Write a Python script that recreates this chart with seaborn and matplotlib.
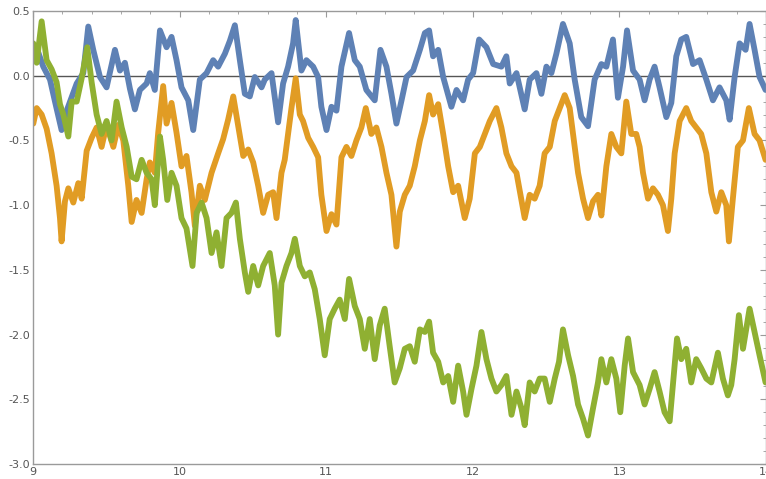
import numpy as np
import pandas as pd
import matplotlib
matplotlib.use("Agg")
import matplotlib.pyplot as plt
from matplotlib.ticker import MultipleLocator, FormatStrFormatter
import seaborn as sns

# values (time, value)
blue_t = [9.002, 9.030, 9.070, 9.116, 9.150, 9.195, 9.230, 9.298, 9.343, 9.377,
          9.411, 9.457, 9.502, 9.559, 9.593, 9.627, 9.661, 9.695, 9.729, 9.775,
          9.797, 9.831, 9.866, 9.911, 9.945, 9.979, 10.013, 10.059, 10.093, 10.138,
          10.184, 10.229, 10.263, 10.309, 10.343, 10.377, 10.411, 10.445, 10.479, 10.513,
          10.559, 10.581, 10.627, 10.672, 10.706, 10.740, 10.774, 10.792, 10.831, 10.865,
          10.911, 10.945, 10.967, 11.002, 11.036, 11.070, 11.104, 11.156, 11.195, 11.229,
          11.274, 11.331, 11.370, 11.411, 11.445, 11.479, 11.514, 11.548, 11.593, 11.639,
          11.673, 11.702, 11.729, 11.764, 11.798, 11.854, 11.889, 11.934, 11.968, 12.002,
          12.043, 12.093, 12.139, 12.195, 12.229, 12.252, 12.298, 12.354, 12.388, 12.434,
          12.468, 12.502, 12.536, 12.570, 12.615, 12.661, 12.695, 12.740, 12.786, 12.831,
          12.877, 12.911, 12.956, 12.990, 13.025, 13.052, 13.093, 13.138, 13.172, 13.206,
          13.240, 13.274, 13.320, 13.354, 13.388, 13.422, 13.456, 13.502, 13.547, 13.593,
          13.638, 13.683, 13.729, 13.752, 13.786, 13.820, 13.861, 13.888, 13.922, 13.956,
          13.997]
blue_v = [0.12, 0.20, 0.07, -0.03, -0.20, -0.42, -0.27, -0.06, 0.02, 0.38,
          0.20, -0.01, -0.09, 0.20, 0.04, 0.10, -0.10, -0.26, -0.11, -0.06,
          0.02, -0.11, 0.35, 0.22, 0.30, 0.12, -0.09, -0.19, -0.42, -0.03,
          0.02, 0.12, 0.07, 0.17, 0.27, 0.39, 0.12, -0.14, -0.16, -0.01,
          -0.09, -0.03, 0.02, -0.36, -0.06, 0.07, 0.25, 0.43, 0.04, 0.12,
          0.07, -0.01, -0.24, -0.42, -0.24, -0.27, 0.07, 0.33, 0.12, 0.07,
          -0.11, -0.19, 0.20, 0.07, -0.14, -0.37, -0.19, -0.01, 0.04, 0.20,
          0.33, 0.35, 0.15, 0.20, -0.01, -0.24, -0.11, -0.19, -0.03, 0.02,
          0.28, 0.22, 0.09, 0.07, 0.15, -0.06, 0.02, -0.26, -0.03, 0.02,
          -0.14, 0.07, 0.02, 0.17, 0.40, 0.25, -0.03, -0.32, -0.39, -0.03,
          0.09, 0.07, 0.28, -0.17, 0.07, 0.35, 0.04, -0.03, -0.19, -0.03,
          0.07, -0.09, -0.32, -0.21, 0.15, 0.28, 0.30, 0.09, 0.12, -0.03,
          -0.19, -0.09, -0.19, -0.34, -0.01, 0.25, 0.20, 0.40, 0.20, -0.01,
          -0.11]

orange_t = [9.002, 9.025, 9.059, 9.093, 9.127, 9.161, 9.184, 9.195, 9.218, 9.241,
            9.275, 9.309, 9.332, 9.366, 9.400, 9.434, 9.468, 9.502, 9.548, 9.582,
            9.616, 9.650, 9.673, 9.706, 9.741, 9.775, 9.797, 9.831, 9.854, 9.888,
            9.911, 9.945, 9.979, 10.013, 10.047, 10.081, 10.104, 10.138, 10.172, 10.218,
            10.263, 10.297, 10.331, 10.366, 10.400, 10.434, 10.468, 10.502, 10.536, 10.570,
            10.604, 10.638, 10.661, 10.695, 10.717, 10.740, 10.763, 10.792, 10.820, 10.842,
            10.877, 10.911, 10.945, 10.967, 11.002, 11.036, 11.070, 11.104, 11.138, 11.172,
            11.206, 11.240, 11.270, 11.308, 11.342, 11.377, 11.411, 11.445, 11.479, 11.502,
            11.536, 11.570, 11.604, 11.639, 11.673, 11.702, 11.729, 11.764, 11.798, 11.832,
            11.866, 11.900, 11.945, 11.979, 12.014, 12.048, 12.082, 12.116, 12.161, 12.195,
            12.229, 12.264, 12.298, 12.354, 12.388, 12.422, 12.456, 12.490, 12.525, 12.559,
            12.593, 12.627, 12.661, 12.684, 12.718, 12.752, 12.786, 12.820, 12.854, 12.877,
            12.911, 12.945, 12.979, 13.013, 13.047, 13.081, 13.115, 13.138, 13.161, 13.195,
            13.229, 13.263, 13.297, 13.331, 13.354, 13.377, 13.411, 13.456, 13.490, 13.524,
            13.558, 13.593, 13.627, 13.661, 13.695, 13.729, 13.747, 13.774, 13.808, 13.843,
            13.883, 13.922, 13.956, 13.997]
orange_v = [-0.37, -0.25, -0.30, -0.41, -0.60, -0.85, -1.10, -1.28, -0.97, -0.87,
            -0.98, -0.83, -0.95, -0.58, -0.48, -0.40, -0.55, -0.38, -0.55, -0.38,
            -0.50, -0.85, -1.13, -0.96, -1.06, -0.80, -0.67, -0.75, -0.44, -0.08,
            -0.37, -0.21, -0.44, -0.70, -0.62, -0.90, -1.16, -0.85, -0.96, -0.75,
            -0.60, -0.49, -0.34, -0.16, -0.39, -0.62, -0.57, -0.67, -0.85, -1.06,
            -0.92, -0.90, -1.10, -0.75, -0.65, -0.45, -0.25, -0.02, -0.30, -0.35,
            -0.48, -0.55, -0.63, -0.92, -1.20, -1.07, -1.15, -0.63, -0.55, -0.62,
            -0.50, -0.40, -0.25, -0.45, -0.40, -0.55, -0.75, -0.92, -1.32, -1.05,
            -0.92, -0.85, -0.70, -0.50, -0.35, -0.15, -0.30, -0.22, -0.45, -0.70,
            -0.90, -0.85, -1.10, -0.95, -0.60, -0.55, -0.45, -0.35, -0.25, -0.40,
            -0.60, -0.70, -0.75, -1.10, -0.92, -0.95, -0.85, -0.60, -0.55, -0.35,
            -0.25, -0.15, -0.25, -0.45, -0.75, -0.95, -1.10, -0.97, -0.92, -1.08,
            -0.70, -0.45, -0.55, -0.60, -0.20, -0.45, -0.45, -0.55, -0.75, -0.95,
            -0.87, -0.92, -1.00, -1.20, -0.95, -0.60, -0.35, -0.25, -0.35, -0.40,
            -0.45, -0.60, -0.90, -1.05, -0.90, -1.00, -1.28, -0.95, -0.55, -0.50,
            -0.25, -0.45, -0.50, -0.65]

green_t = [9.002, 9.025, 9.059, 9.093, 9.127, 9.161, 9.184, 9.207, 9.241, 9.264,
           9.298, 9.332, 9.370, 9.400, 9.434, 9.468, 9.502, 9.536, 9.570, 9.605,
           9.639, 9.673, 9.706, 9.741, 9.775, 9.809, 9.831, 9.866, 9.888, 9.916,
           9.945, 9.979, 10.013, 10.047, 10.088, 10.116, 10.150, 10.184, 10.218, 10.252,
           10.286, 10.320, 10.354, 10.384, 10.411, 10.445, 10.468, 10.502, 10.536, 10.570,
           10.615, 10.649, 10.672, 10.695, 10.729, 10.763, 10.786, 10.820, 10.854, 10.888,
           10.922, 10.956, 10.990, 11.024, 11.058, 11.092, 11.127, 11.156, 11.195, 11.229,
           11.263, 11.297, 11.331, 11.365, 11.399, 11.433, 11.467, 11.502, 11.536, 11.570,
           11.604, 11.639, 11.673, 11.702, 11.729, 11.764, 11.798, 11.832, 11.866, 11.900,
           11.934, 11.957, 11.991, 12.025, 12.059, 12.093, 12.127, 12.161, 12.195, 12.229,
           12.264, 12.298, 12.332, 12.354, 12.388, 12.422, 12.456, 12.490, 12.525, 12.559,
           12.588, 12.615, 12.650, 12.684, 12.718, 12.752, 12.786, 12.820, 12.854, 12.877,
           12.911, 12.945, 12.979, 13.006, 13.036, 13.059, 13.093, 13.138, 13.172, 13.206,
           13.240, 13.274, 13.308, 13.343, 13.365, 13.393, 13.422, 13.456, 13.490, 13.524,
           13.558, 13.593, 13.627, 13.672, 13.706, 13.740, 13.763, 13.786, 13.815, 13.843,
           13.888, 13.922, 13.956, 13.997]
green_v = [0.25, 0.10, 0.42, 0.12, 0.05, -0.05, -0.22, -0.30, -0.47, -0.20,
           -0.20, -0.02, 0.22, -0.05, -0.30, -0.45, -0.35, -0.50, -0.20, -0.40,
           -0.55, -0.78, -0.80, -0.65, -0.75, -0.80, -1.00, -0.47, -0.65, -0.96,
           -0.75, -0.85, -1.10, -1.18, -1.47, -1.06, -0.98, -1.10, -1.37, -1.21,
           -1.47, -1.10, -1.06, -0.98, -1.26, -1.52, -1.67, -1.47, -1.62, -1.47,
           -1.37, -1.62, -2.00, -1.60, -1.47, -1.37, -1.26, -1.47, -1.55, -1.52,
           -1.65, -1.88, -2.16, -1.88, -1.80, -1.73, -1.88, -1.57, -1.78, -1.88,
           -2.11, -1.88, -2.19, -1.93, -1.80, -2.09, -2.37, -2.26, -2.11, -2.09,
           -2.21, -1.96, -1.98, -1.90, -2.14, -2.21, -2.37, -2.32, -2.52, -2.24,
           -2.44, -2.62, -2.42, -2.24, -1.98, -2.19, -2.34, -2.44, -2.39, -2.32,
           -2.62, -2.44, -2.57, -2.70, -2.37, -2.44, -2.34, -2.34, -2.52, -2.34,
           -2.21, -1.96, -2.16, -2.32, -2.54, -2.65, -2.78, -2.57, -2.37, -2.19,
           -2.37, -2.19, -2.34, -2.60, -2.24, -2.03, -2.29, -2.39, -2.54, -2.42,
           -2.29, -2.44, -2.60, -2.67, -2.39, -2.03, -2.19, -2.11, -2.37, -2.19,
           -2.26, -2.34, -2.37, -2.14, -2.34, -2.47, -2.39, -2.19, -1.85, -2.11,
           -1.80, -1.98, -2.16, -2.37]

series_names = ["a", "b", "c"]
colors = ["#5E81B5", "#E19C24", "#8FB032"]

df = pd.concat([
    pd.DataFrame({"t": blue_t, "v": blue_v, "s": "a"}),
    pd.DataFrame({"t": orange_t, "v": orange_v, "s": "b"}),
    pd.DataFrame({"t": green_t, "v": green_v, "s": "c"}),
])

sns.set_style("white")
plt.rcParams["font.family"] = ["DejaVu Sans"]

fig = plt.figure(figsize=(7.66, 4.79), dpi=100)
ax = fig.add_axes([33 / 766, 15 / 479, 1 - 33 / 766, 453 / 479])

ax.axhline(0, color="#555555", lw=1.0, zorder=1)
sns.lineplot(data=df, x="t", y="v", hue="s", hue_order=series_names,
             palette=colors, estimator=None, sort=False, linewidth=4.2,
             legend=False, ax=ax, zorder=2)

ax.set_xlim(9, 14)
ax.set_ylim(-3, 0.5)
ax.set_xlabel("")
ax.set_ylabel("")

ax.xaxis.set_major_locator(MultipleLocator(1))
ax.xaxis.set_minor_locator(MultipleLocator(0.2))
ax.yaxis.set_major_locator(MultipleLocator(0.5))
ax.yaxis.set_minor_locator(MultipleLocator(0.1))
ax.yaxis.set_major_formatter(FormatStrFormatter("%.1f"))

for sp in ax.spines.values():
    sp.set_visible(True)
    sp.set_color("#9a9a9a")
    sp.set_linewidth(1.0)

ax.tick_params(which="both", direction="in", top=True, right=True,
               colors="#9a9a9a", labelcolor="#555555", labelsize=8, pad=2)
ax.tick_params(which="major", length=4)
ax.tick_params(which="minor", length=2.5)

fig.savefig("out.png", dpi=100)
